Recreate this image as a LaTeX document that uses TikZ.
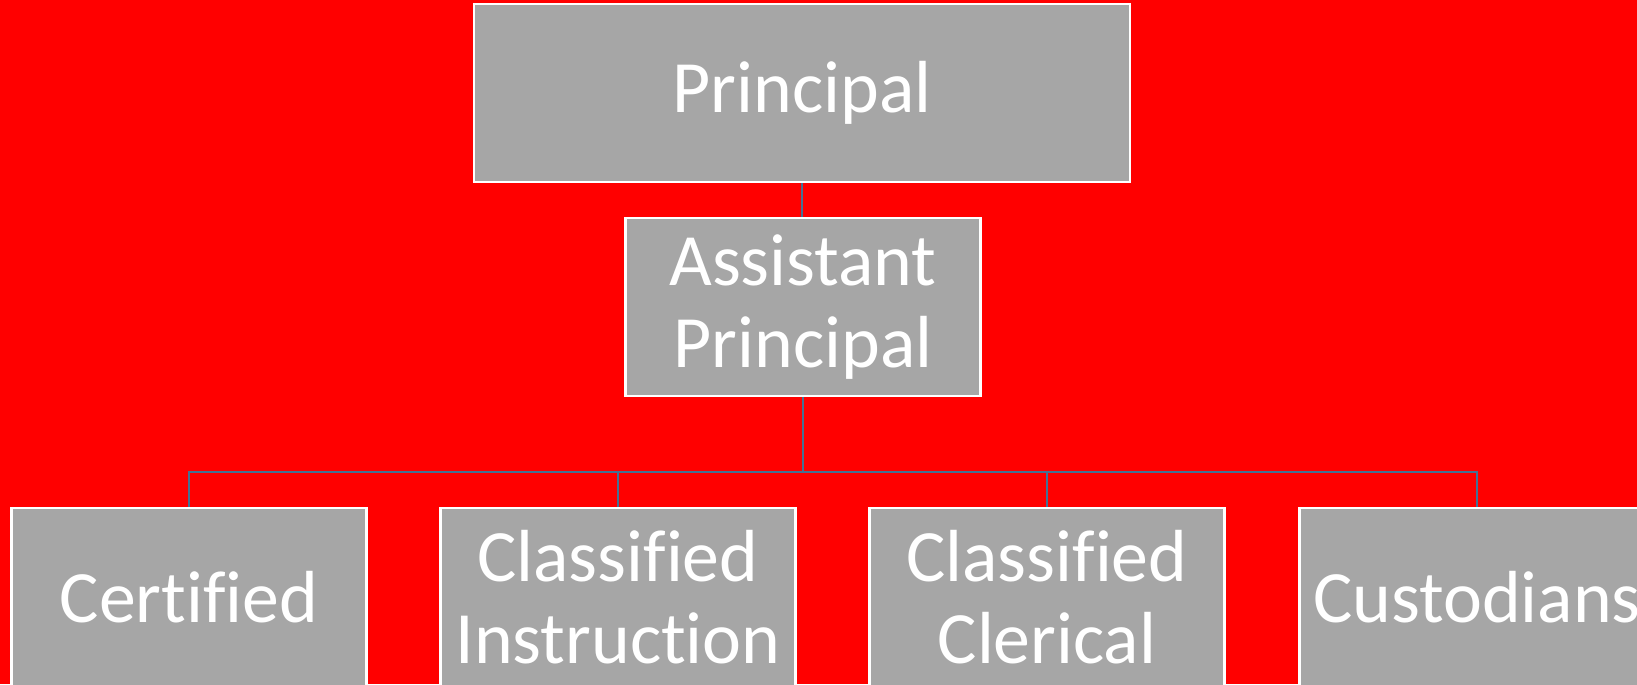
\documentclass[tikz,border=0pt]{standalone}
\usepackage{fontspec}
\setmainfont{Carlito}[Ligatures={NoCommon}]
\usetikzlibrary{positioning}
\definecolor{bgred}{RGB}{255,0,0}
\definecolor{boxgray}{RGB}{166,166,166}
\definecolor{linkblue}{RGB}{68,114,148}

\begin{document}
\begin{tikzpicture}[x=0.02cm,y=-0.02cm,
  box/.style={draw=white,line width=1.2pt,fill=boxgray,text=white,
    minimum width=7.1cm,minimum height=3.56cm,align=center,inner sep=0pt,
    font=\fontsize{42}{47}\selectfont},
  link/.style={draw=linkblue,line width=1.2pt}]
  \useasboundingbox (0,0) rectangle (1637,684);
  \fill[bgred] (0,0) rectangle (1637,684);
  \path
  node[box,minimum width=13.12cm] (principal) at (802,93) {Principal}
  node[box] (assistant) at (803,307) {Assistant\\Principal}
  node[box] (certified) at (189,597) {Certified}
  node[box] (instruction) at (618,597) {Classified\\Instruction}
  node[box] (clerical) at (1047,597) {Classified\\Clerical}
  node[box] (custodians) at (1477,597) {Custodians}
  ;
  \coordinate (hub) at (assistant.south |- 0,472);
  \path[link]
  (principal.south) -- (principal.south |- assistant.north)
  (assistant.south) -- (hub)
  (hub) -| (certified.north)
  (hub) -| (instruction.north)
  (hub) -| (clerical.north)
  (hub) -| (custodians.north)
  ;
\end{tikzpicture}
\end{document}
